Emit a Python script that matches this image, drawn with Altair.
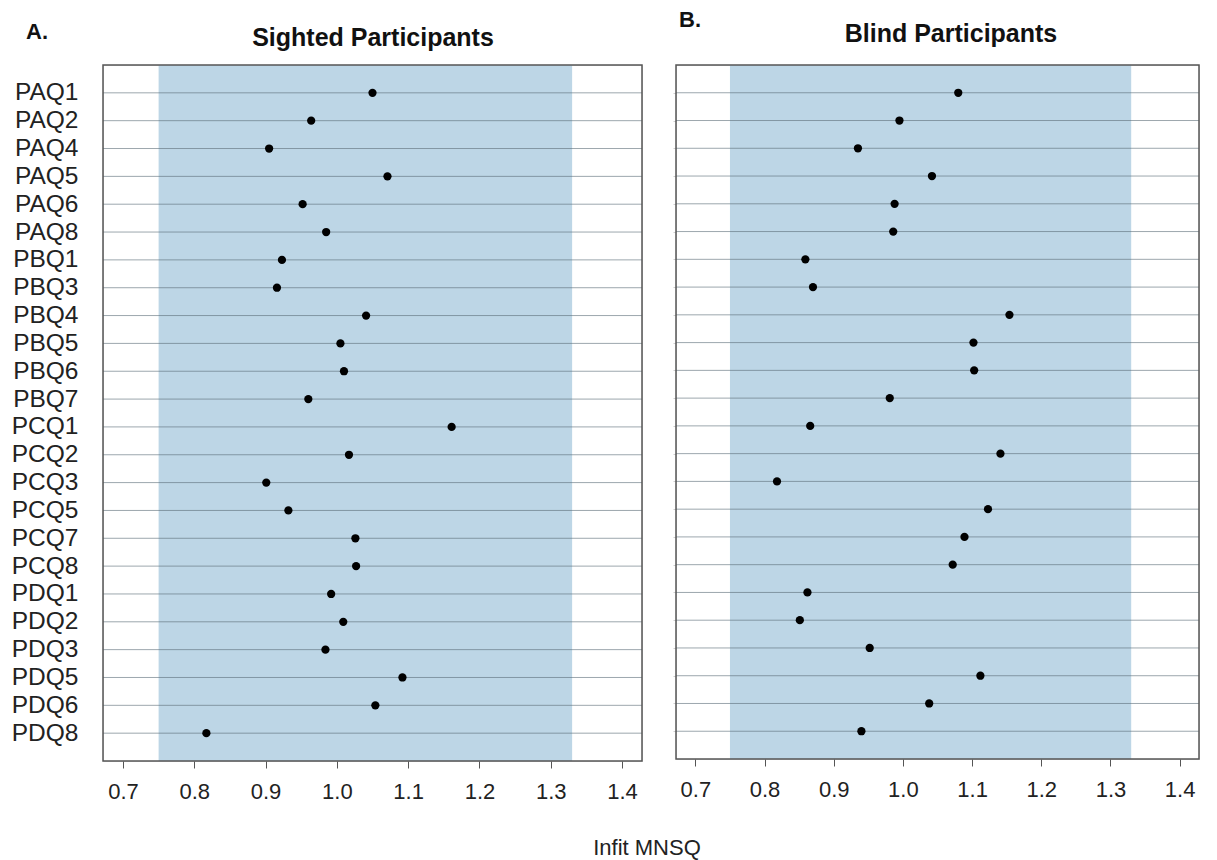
import altair as alt
import pandas as pd

# Item labels, top to bottom
items = ["PAQ1", "PAQ2", "PAQ4", "PAQ5", "PAQ6", "PAQ8",
         "PBQ1", "PBQ3", "PBQ4", "PBQ5", "PBQ6", "PBQ7",
         "PCQ1", "PCQ2", "PCQ3", "PCQ5", "PCQ7", "PCQ8",
         "PDQ1", "PDQ2", "PDQ3", "PDQ5", "PDQ6", "PDQ8"]

# Infit mean-square per item
sighted_infit = [1.050, 0.964, 0.905, 1.071, 0.952, 0.985,
                 0.923, 0.916, 1.041, 1.005, 1.010, 0.960,
                 1.161, 1.017, 0.901, 0.932, 1.026, 1.027,
                 0.992, 1.009, 0.984, 1.092, 1.054, 0.817]
blind_infit = [1.080, 0.995, 0.935, 1.042, 0.988, 0.986,
               0.859, 0.870, 1.154, 1.102, 1.103, 0.981,
               0.866, 1.141, 0.818, 1.123, 1.089, 1.072,
               0.862, 0.851, 0.952, 1.112, 1.038, 0.940]

x_ticks = [0.7, 0.8, 0.9, 1.0, 1.1, 1.2, 1.3, 1.4]
acceptable_range = [0.75, 1.33]   # shaded fit range
x_domain = [0.672, 1.428]

FONT = "Liberation Sans"
BAND = "#bdd6e6"
FRAME = "#555555"


def panel(values, title, letter, w, h, title_x, title_y, letter_x, letter_y,
          show_labels, x_title=None):
    df = pd.DataFrame({"item": items, "infit": values})
    xs = alt.Scale(domain=x_domain, nice=False, zero=False)
    ys = alt.Scale(type="point", domain=items, padding=1)

    x_axis = alt.Axis(values=x_ticks, format=".1f", title=None, grid=False,
                      domain=False, tickSize=7, tickColor=FRAME, tickWidth=1,
                      labelFont=FONT, labelFontSize=22, labelColor="#222222",
                      labelPadding=13)
    if show_labels:
        y_axis = alt.Axis(title=None, grid=False, domain=False, ticks=False,
                          labelFont=FONT, labelFontSize=24.5, labelColor="#222222",
                          labelPadding=25)
    else:
        y_axis = alt.Axis(title=None, grid=False, domain=False, labels=False,
                          ticks=True, tickSize=3, tickColor="#cfcfcf")

    band_df = pd.DataFrame({"lo": [acceptable_range[0]], "hi": [acceptable_range[1]]})
    band = alt.Chart(band_df).mark_rect(color=BAND).encode(
        x=alt.X("lo:Q", scale=xs, axis=x_axis),
        x2="hi:Q",
        y=alt.value(0),
        y2=alt.value(h),
    )

    rules = alt.Chart(df).mark_rule(color="#5a6a76", opacity=0.6, strokeWidth=1).encode(
        y=alt.Y("item:N", scale=ys, axis=y_axis),
    )

    dots = alt.Chart(df).mark_circle(size=68, color="black", opacity=1).encode(
        x=alt.X("infit:Q", scale=xs, axis=x_axis),
        y=alt.Y("item:N", scale=ys, axis=y_axis),
    )

    frame = alt.Chart(pd.DataFrame({"f": [0]})).mark_rect(
        fill=None, stroke=FRAME, strokeWidth=1.5
    ).encode(x=alt.value(0), x2=alt.value(w), y=alt.value(0), y2=alt.value(h))

    title_txt = alt.Chart(pd.DataFrame({"t": [title]})).mark_text(
        font=FONT, fontSize=25, fontWeight="bold", color="#111111",
        align="center", baseline="alphabetic"
    ).encode(x=alt.value(title_x), y=alt.value(title_y), text="t:N")

    letter_txt = alt.Chart(pd.DataFrame({"t": [letter]})).mark_text(
        font=FONT, fontSize=22, fontWeight="bold", color="#111111",
        align="left", baseline="alphabetic"
    ).encode(x=alt.value(letter_x), y=alt.value(letter_y), text="t:N")

    layers = [band, rules, dots, frame, title_txt, letter_txt]

    if x_title:
        xt = alt.Chart(pd.DataFrame({"t": [x_title]})).mark_text(
            font=FONT, fontSize=22, color="#222222",
            align="center", baseline="alphabetic"
        ).encode(x=alt.value(544), y=alt.value(790), text="t:N")
        layers.append(xt)

    return alt.layer(*layers).properties(width=w, height=h)


left = panel(sighted_infit, "Sighted Participants", "A.", 539, 696,
             title_x=270, title_y=-19, letter_x=-77, letter_y=-26,
             show_labels=True, x_title="Infit MNSQ")
right = panel(blind_infit, "Blind Participants", "B.", 523, 694,
              title_x=275, title_y=-23, letter_x=3, letter_y=-38,
              show_labels=False)

chart = alt.hconcat(left, right, spacing=34, bounds="flush").properties(
    padding={"left": 10, "top": 8, "right": 5, "bottom": 0}
).configure_view(stroke=None).configure(background="white")

chart.save("out.html", embed_options={"renderer": "svg", "actions": False})
